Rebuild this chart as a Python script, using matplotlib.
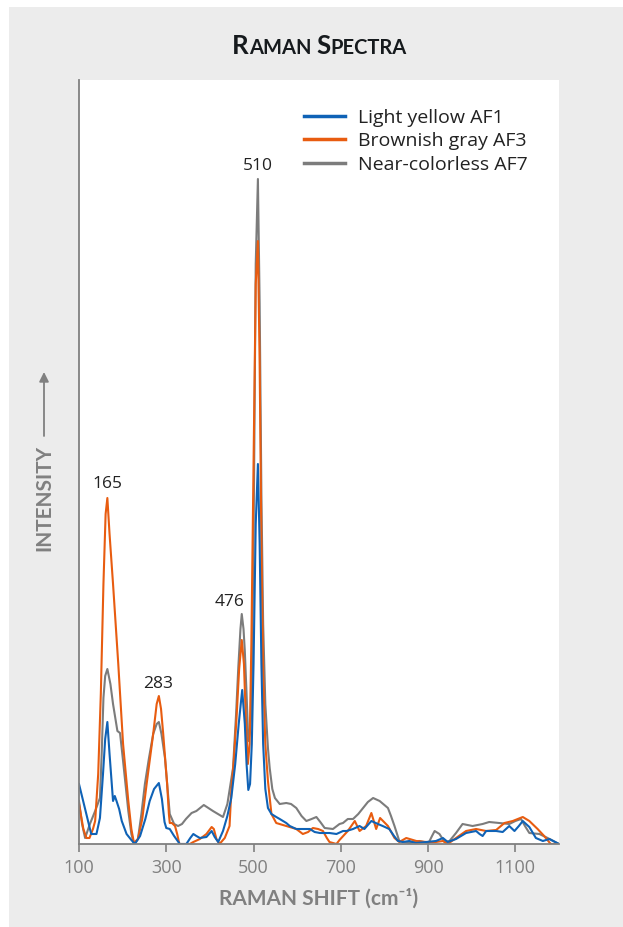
import numpy as np
import matplotlib
matplotlib.use('Agg')
from matplotlib import pyplot as plt
from matplotlib.patches import Rectangle

plt.rcParams['font.family'] = ['Lato', 'DejaVu Sans']

# Raman shift (cm-1) and intensity
wn_af1 = [100, 114, 128, 140, 148, 155, 160, 165, 170, 178, 182, 186, 192, 198, 209, 220, 228,
          240, 252, 262, 272, 283, 290, 296, 300, 308, 318, 331, 346, 355, 362, 369, 377, 392,
          404, 411, 419, 430, 440, 449, 458, 466, 474, 480, 484, 488, 492, 496, 500, 505, 510,
          514, 518, 522, 527, 533, 541, 552, 560, 575, 583, 598, 613, 629, 640, 652, 674, 690,
          705, 713, 728, 743, 754, 770, 785, 796, 811, 822, 831, 842, 857, 871, 896, 918, 934,
          945, 964, 987, 1010, 1018, 1025, 1033, 1056, 1071, 1086, 1098, 1108, 1117, 1132,
          1147, 1163, 1178, 1200]
int_af1 = [60, 35, 10, 10, 26, 70, 105, 122, 90, 43, 48, 43, 35, 23, 10, 4, 0,
           8, 25, 43, 55, 61, 45, 22, 16, 15, 8, 0, 0, 6, 10, 8, 6, 7,
           13, 7, 2, 13, 28, 46, 80, 120, 154, 120, 80, 54, 60, 100, 180, 320, 380,
           300, 180, 100, 55, 36, 30, 27, 25, 21, 18, 15, 15, 15, 12, 11, 11, 10,
           13, 13, 15, 18, 15, 23, 20, 18, 15, 8, 3, 2, 3, 1, 2, 3, 6,
           2, 5, 11, 13, 10, 8, 13, 13, 12, 18, 13, 18, 23, 17,
           6, 3, 5, 0]

wn_af3 = [100, 110, 117, 124, 132, 137, 144, 150, 156, 161, 165, 170, 178, 190, 201, 213, 220,
          226, 235, 245, 255, 270, 278, 283, 288, 293, 302, 306, 308, 313, 320, 325, 330, 354,
          362, 377, 392, 404, 409, 415, 422, 434, 445, 449, 455, 461, 467, 473, 478, 482, 487,
          491, 495, 500, 505, 510, 514, 518, 522, 527, 533, 541, 552, 575, 598, 613, 625, 636,
          648, 659, 668, 674, 690, 697, 716, 732, 743, 758, 770, 781, 790, 808, 823, 834, 850,
          873, 896, 918, 934, 945, 964, 987, 1010, 1033, 1056, 1075, 1094, 1117, 1132, 1151,
          1166, 1181, 1200]
int_af3 = [40, 15, 6, 6, 15, 23, 70, 150, 260, 330, 346, 310, 260, 180, 100, 43, 15,
           1, 5, 25, 60, 110, 140, 148, 135, 110, 60, 30, 21, 21, 18, 10, 0, 0,
           2, 5, 10, 17, 15, 5, 0, 6, 18, 53, 85, 126, 175, 204, 180, 130, 80,
           100, 200, 380, 560, 603, 480, 300, 170, 100, 63, 30, 21, 18, 15, 10, 12, 16,
           15, 13, 6, 2, 0, 4, 13, 23, 13, 18, 31, 15, 26, 18, 6, 2, 6,
           3, 2, 2, 3, 0, 6, 13, 15, 13, 14, 21, 23, 27, 23, 15,
           8, 0, 0]

wn_af7 = [100, 107, 114, 125, 137, 148, 152, 156, 160, 165, 172, 178, 188, 194, 201, 213, 220,
          226, 235, 243, 251, 260, 270, 278, 283, 289, 297, 303, 308, 318, 327, 336, 345, 358,
          369, 386, 407, 430, 440, 453, 460, 465, 470, 473, 477, 480, 484, 488, 491, 495, 500,
          505, 510, 514, 518, 522, 527, 533, 537, 543, 549, 560, 575, 586, 598, 610, 621, 633,
          644, 653, 663, 682, 697, 705, 716, 728, 740, 751, 762, 774, 789, 808, 815, 823, 834,
          857, 880, 901, 909, 915, 926, 938, 949, 964, 979, 1002, 1025, 1040, 1063, 1086, 1100,
          1113, 1122, 1132, 1155, 1174, 1200]
int_af7 = [43, 20, 6, 20, 33, 46, 90, 146, 168, 175, 160, 140, 113, 111, 83, 33, 10,
           0, 5, 30, 60, 85, 110, 120, 122, 110, 86, 55, 30, 20, 18, 20, 25, 31,
           33, 39, 33, 27, 40, 76, 130, 176, 215, 230, 215, 193, 150, 103, 110, 130, 300,
           580, 665, 540, 350, 220, 140, 96, 76, 55, 46, 40, 41, 40, 36, 28, 23, 25,
           27, 22, 16, 15, 20, 21, 25, 25, 30, 36, 42, 46, 43, 36, 28, 18, 3,
           1, 3, 1, 8, 13, 10, 2, 3, 11, 20, 18, 20, 22, 21, 20, 23,
           25, 18, 11, 10, 6, 0]

series = [
    ('Light yellow AF1', wn_af1, int_af1, '#0f62b6'),
    ('Brownish gray AF3', wn_af3, int_af3, '#e85c10'),
    ('Near-colorless AF7', wn_af7, int_af7, '#7c7c7c'),
]

peak_labels = ['165', '283', '476', '510']
peak_label_pos = [(165, 360), (281, 160), (445, 242), (510, 678)]

W, H = 623, 927
fig = plt.figure(figsize=(W / 100, H / 100), dpi=100)
fig.patches.append(Rectangle((9 / W, 0), (W - 9) / W, (H - 7) / H, transform=fig.transFigure,
                             facecolor='#ececec', edgecolor='none', zorder=-5))

ax = fig.add_axes([79 / W, (H - 844) / H, 480 / W, 764 / H])
ax.set_facecolor('white')

# draw grey first so coloured lines sit on top like the reference
for name, x, y, c in series[::-1]:
    ax.plot(x, y, color=c, linewidth=1.5, label=name, solid_joinstyle='round')

ax.set_xlim(100, 1200)
ax.set_ylim(0, 764)
ax.set_yticks([])
ax.set_xticks(np.arange(100, 1200, 200))
for side in ['top', 'right']:
    ax.spines[side].set_visible(False)
for side in ['left', 'bottom']:
    ax.spines[side].set_color('#808080')
    ax.spines[side].set_linewidth(1.3)
ax.tick_params(axis='x', colors='#808080', length=6, width=1.2, pad=5, labelsize=13)
for lab in ax.get_xticklabels():
    lab.set_family(['Open Sans', 'DejaVu Sans'])

for txt, (px, py) in zip(peak_labels, peak_label_pos):
    ax.text(px, py, txt, ha='center', va='center', fontsize=12.5, color='#222222',
            family=['Open Sans', 'DejaVu Sans'])

handles, labels = ax.get_legend_handles_labels()
leg = ax.legend(handles[::-1], labels[::-1], loc='upper left', frameon=False,
                bbox_to_anchor=(304 / W, 1 - 109 / H), bbox_transform=fig.transFigure,
                borderpad=0, borderaxespad=0, handlelength=2.1,
                handletextpad=0.67, labelspacing=0.27,
                prop={'family': ['Open Sans', 'DejaVu Sans'], 'size': 14})
for line in leg.get_lines():
    line.set_linewidth(2.5)
for t in leg.get_texts():
    t.set_color('#222222')

# small-caps title, built from pieces
renderer = fig.canvas.get_renderer()
pieces = [('R', 18.5), ('AMAN ', 14.5), ('S', 18.5), ('PECTRA', 14.5)]
xpos = 232
for s, size in pieces:
    t = fig.text(xpos / W, 1 - 54 / H, s, fontsize=size, fontweight='bold',
                 color='#161a1d', va='baseline', ha='left')
    xpos += t.get_window_extent(renderer).width

fig.text(319 / W, 1 - 898 / H, 'RAMAN SHIFT (cm\u207b\u00b9)', ha='center', va='center',
         fontsize=15, fontweight='bold', color='#808080')
fig.text(44 / W, 1 - 498 / H, 'INTENSITY', rotation=90, ha='center', va='center',
         fontsize=15, fontweight='bold', color='#808080')
ax.annotate('', xy=(44, H - 372), xytext=(44, H - 436), xycoords='figure pixels',
            textcoords='figure pixels', annotation_clip=False,
            arrowprops=dict(arrowstyle='-|>', color='#808080', lw=1.3,
                            mutation_scale=14, shrinkA=0, shrinkB=0))

fig.savefig('out.png', dpi=100)
